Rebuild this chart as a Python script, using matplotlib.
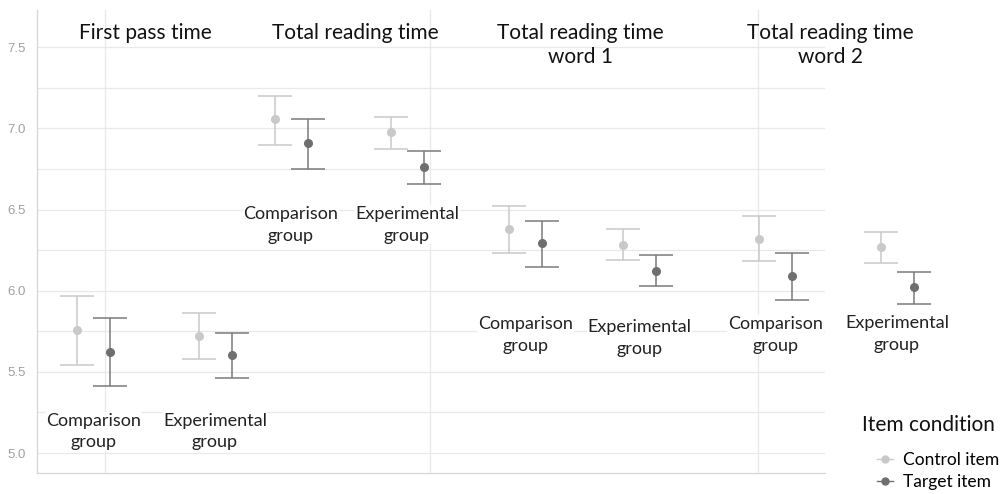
import matplotlib.pyplot as plt
from matplotlib.lines import Line2D
import numpy as np

plt.rcParams["font.family"] = ["Lato", "DejaVu Sans"]

# measures (panel titles) and the two participant groups
measures = ["First pass time", "Total reading time",
            "Total reading time\nword 1", "Total reading time\nword 2"]
groups = ["Comparison\ngroup", "Experimental\ngroup"]

# log reading time, ordered measure by measure: comparison, experimental
control_mean = [5.76, 5.72, 7.06, 6.98, 6.38, 6.28, 6.32, 6.27]
control_low = [5.54, 5.58, 6.90, 6.87, 6.235, 6.19, 6.18, 6.17]
control_high = [5.97, 5.86, 7.20, 7.07, 6.52, 6.38, 6.46, 6.36]

target_mean = [5.62, 5.605, 6.91, 6.76, 6.295, 6.12, 6.09, 6.02]
target_low = [5.41, 5.46, 6.75, 6.66, 6.145, 6.03, 5.94, 5.92]
target_high = [5.83, 5.74, 7.06, 6.86, 6.43, 6.22, 6.23, 6.115]

# ---- layout (x in pixel-like units across the canvas) ----
cluster_x = np.array([93.5, 215, 291, 407, 525.5, 639.5, 775.5, 897])
dodge = 16.5
title_x = [145, 355, 580, 830]
label_y = [5.133, 5.133, 6.407, 6.407, 5.728, 5.707, 5.728, 5.735]

CONTROL = "#c9c9c9"
TARGET = "#6f6f6f"
GRID = "#e9e9e9"

fig = plt.figure(figsize=(10, 4.94), dpi=100)
ax = fig.add_axes([0.037, 0.0425, 0.788, 0.9375])
ax.set_xlim(37, 825)
ax.set_ylim(4.877, 7.73)

# grid
for yv in np.arange(5.0, 7.6, 0.25):
    ax.axhline(yv, color=GRID, lw=0.9, zorder=0)
for xv in [105, 430, 758]:
    ax.axvline(xv, color=GRID, lw=0.9, zorder=0)

ax.set_yticks([5.0, 5.5, 6.0, 6.5, 7.0, 7.5])
ax.set_yticklabels(["5.0", "5.5", "6.0", "6.5", "7.0", "7.5"],
                   family="Liberation Sans")
ax.tick_params(axis="y", length=0, labelsize=9.5, labelcolor="#a0a0a0", pad=8)
ax.set_xticks([])
for side in ["top", "right"]:
    ax.spines[side].set_visible(False)
for side in ["left", "bottom"]:
    ax.spines[side].set_color("#d6d6d6")
    ax.spines[side].set_linewidth(0.9)


def draw_bars(xs, mean, low, high, color, bar_color):
    mean = np.array(mean)
    yerr = [mean - np.array(low), np.array(high) - mean]
    line, caps, cols = ax.errorbar(xs, mean, yerr=yerr, fmt="o", color=color,
                                   ecolor=bar_color, elinewidth=1.1,
                                   capsize=12, capthick=1.1, markersize=5.5,
                                   zorder=3)
    for art in [line, *caps, *cols]:
        art.set_clip_on(False)


draw_bars(cluster_x - dodge, control_mean, control_low, control_high,
          CONTROL, CONTROL)
draw_bars(cluster_x + dodge, target_mean, target_low, target_high,
          TARGET, "#7a7a7a")

# group labels under / beside each cluster
for i, cx in enumerate(cluster_x):
    ax.text(cx, label_y[i], groups[i % 2], ha="center", va="center",
            fontsize=13, color="#222222", linespacing=1.45, zorder=4,
            clip_on=False,
            bbox=dict(facecolor="white", edgecolor="none", pad=0.5))

# measure titles
for tx, name in zip(title_x, measures):
    ax.text(tx, 7.648, name, ha="center", va="top", fontsize=15,
            color="#111111", linespacing=1.25, clip_on=False, zorder=4)

# legend
fig.text(0.862, 1 - 425 / 494, "Item condition", ha="left", va="center",
         fontsize=15, color="#111111")
handles = [
    Line2D([], [], color=CONTROL, marker="o", markersize=5, lw=1),
    Line2D([], [], color=TARGET, marker="o", markersize=5, lw=1),
]
fig.legend(handles, ["Control item", "Target item"], loc="center left",
           bbox_to_anchor=(0.877, 1 - 471 / 494), frameon=False,
           fontsize=12.5, handlelength=0.95, handletextpad=0.57,
           labelspacing=0.3, borderpad=0, borderaxespad=0)

fig.savefig("out.png", dpi=100)
